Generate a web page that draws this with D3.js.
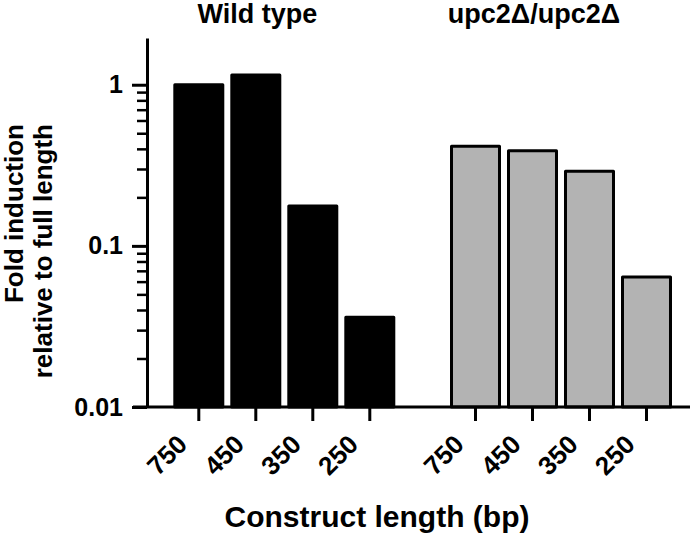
<!DOCTYPE html>
<html>
<head>
<meta charset="utf-8">
<script src="https://cdn.jsdelivr.net/npm/d3@7"></script>
<style>
  body { margin: 0; background: #fff; }
  text { font-family: "Liberation Sans", Arial, sans-serif; font-weight: bold; fill: #000; }
</style>
</head>
<body>
<div id="chart"></div>
<script>
// Data
const GROUPS = ["Wild type", "upc2\u0394/upc2\u0394"];
const CONSTRUCTS = ["750", "450", "350", "250"];
const WILD_TYPE = [1.0, 1.15, 0.177, 0.036];
const UPC2 = [0.415, 0.39, 0.29, 0.064];
const Y_TICKS = [0.01, 0.1, 1];
const Y_MINOR = [0.02, 0.03, 0.04, 0.05, 0.06, 0.07, 0.08, 0.09,
                 0.2, 0.3, 0.4, 0.5, 0.6, 0.7, 0.8, 0.9];

// Constants for layout
const FRAME_WIDTH = 700;
const FRAME_HEIGHT = 542;
const AXIS_X = 147;
const AXIS_Y = 407;
const AXIS_TOP = 38;

const FRAME = d3.select("#chart")
                .append("svg")
                  .attr("width", FRAME_WIDTH)
                  .attr("height", FRAME_HEIGHT);

const Y_SCALE = d3.scaleLog()
                  .domain([0.01, 1.95])
                  .range([AXIS_Y, AXIS_TOP]);

const GROUP_SCALE = d3.scaleBand()
                      .domain(GROUPS)
                      .range([170.3, 675])
                      .paddingInner(0.176)
                      .paddingOuter(0);

const BAR_SCALE = d3.scaleBand()
                    .domain(CONSTRUCTS)
                    .range([0, GROUP_SCALE.bandwidth()])
                    .paddingInner(0.158)
                    .paddingOuter(0.079);

const series = [
  {group: GROUPS[0], values: WILD_TYPE, fill: "#000000"},
  {group: GROUPS[1], values: UPC2, fill: "#b3b3b3"}
];

// Bars
series.forEach((s) => {
  FRAME.append("g")
    .attr("transform", "translate(" + GROUP_SCALE(s.group) + ",0)")
    .selectAll("rect")
    .data(CONSTRUCTS.map((c, i) => ({c: c, v: s.values[i]})))
    .enter()
    .append("rect")
      .attr("x", (d) => BAR_SCALE(d.c))
      .attr("width", BAR_SCALE.bandwidth())
      .attr("y", (d) => Y_SCALE(d.v))
      .attr("height", (d) => AXIS_Y - Y_SCALE(d.v))
      .attr("fill", s.fill)
      .attr("stroke", "#000")
      .attr("stroke-width", 3)
      .attr("stroke-linejoin", "round");

  // Group title (sits a bit left of the group centre)
  FRAME.append("text")
    .attr("x", GROUP_SCALE(s.group) + GROUP_SCALE.bandwidth() / 2 - 27)
    .attr("y", 23)
    .attr("text-anchor", "middle")
    .attr("font-size", "27px")
    .text(s.group);

  // X axis ticks for this group
  const xg = FRAME.append("g")
    .attr("transform", "translate(" + GROUP_SCALE(s.group) + "," + AXIS_Y + ")")
    .call(d3.axisBottom(BAR_SCALE).tickSize(14).tickSizeOuter(0));
  xg.select(".domain").remove();
  xg.selectAll(".tick line").attr("stroke-width", 3);
  xg.selectAll(".tick text")
    .attr("x", 0).attr("y", 0).attr("dy", 0)
    .attr("transform", "translate(-10,39) rotate(-45)")
    .attr("text-anchor", "end")
    .attr("font-size", "26px")
    .attr("font-family", null);
});

// X baseline
FRAME.append("line")
  .attr("x1", AXIS_X - 14).attr("x2", 690)
  .attr("y1", AXIS_Y).attr("y2", AXIS_Y)
  .attr("stroke", "#000")
  .attr("stroke-width", 3);

// Y axis, minor ticks
const yMinor = FRAME.append("g")
  .attr("transform", "translate(" + AXIS_X + ",0)")
  .call(d3.axisLeft(Y_SCALE).tickValues(Y_MINOR).tickSize(10).tickFormat(""));
yMinor.select(".domain").remove();
yMinor.selectAll(".tick line").attr("stroke-width", 2.5);

// Y axis, major ticks
const yMajor = FRAME.append("g")
  .attr("transform", "translate(" + AXIS_X + ",0)")
  .call(d3.axisLeft(Y_SCALE).tickValues(Y_TICKS).tickSize(15).tickSizeOuter(0)
          .tickPadding(9).tickFormat((d) => String(d)));
yMajor.select(".domain").attr("stroke-width", 3);
yMajor.selectAll(".tick line").attr("stroke-width", 3);
yMajor.selectAll(".tick text")
  .attr("font-size", "25px")
  .attr("font-family", null);

// Y title
["Fold induction", "relative to full length"].forEach((t, i) => {
  FRAME.append("text")
    .attr("transform", "translate(" + (23 + i * 29) + ",124) rotate(-90)")
    .attr("text-anchor", "end")
    .attr("font-size", "26px")
    .text(t);
});

// X title
FRAME.append("text")
  .attr("x", 377)
  .attr("y", 527)
  .attr("text-anchor", "middle")
  .attr("font-size", "30px")
  .text("Construct length (bp)");
</script>
</body>
</html>
